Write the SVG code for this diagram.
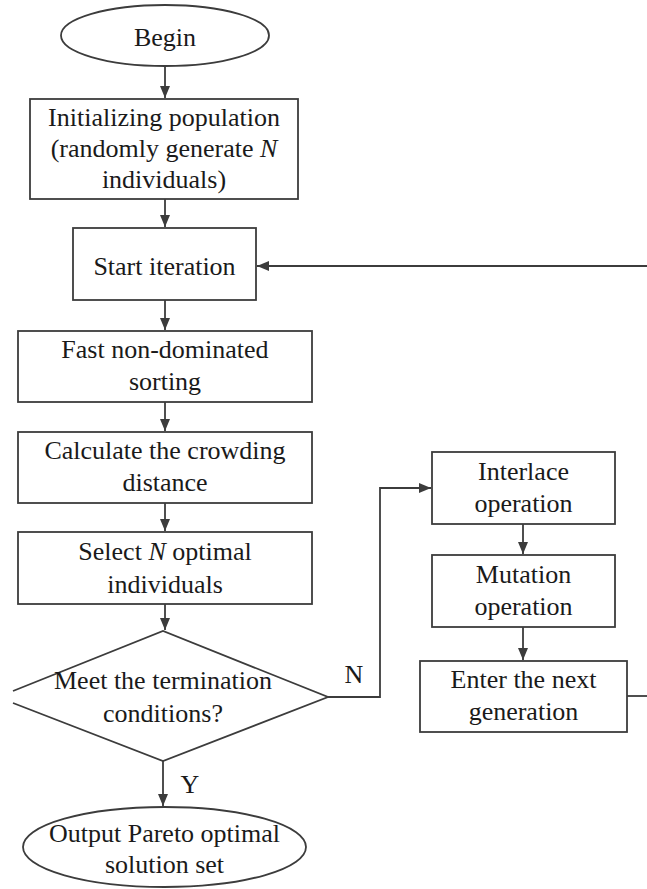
<svg xmlns="http://www.w3.org/2000/svg" width="647" height="889" viewBox="0 0 647 889">
<style>
.s{fill:#fff;stroke:#3c3c3c;stroke-width:1.8}
.t{font-family:'Liberation Serif','Times New Roman',Tinos,'DejaVu Serif',serif;font-size:26px;fill:#1a1a1a;text-anchor:middle}
.c{fill:none;stroke:#3c3c3c;stroke-width:1.8}
.i{font-style:italic}
</style>
<defs>
<marker id="a" viewBox="0 0 12 10" refX="12" refY="5" markerWidth="12" markerHeight="10" markerUnits="userSpaceOnUse" orient="auto">
<path d="M0,0 L12,5 L0,10 z" fill="#3c3c3c"/>
</marker>
</defs>
<rect width="647" height="889" fill="#fff"/>
<g id="connectors">
<path class="c" d="M165,66 V98" marker-end="url(#a)"/>
<path class="c" d="M165,199 V227" marker-end="url(#a)"/>
<path class="c" d="M165,300 V330" marker-end="url(#a)"/>
<path class="c" d="M165,402 V431" marker-end="url(#a)"/>
<path class="c" d="M165,503 V531" marker-end="url(#a)"/>
<path class="c" d="M165,604 V630" marker-end="url(#a)"/>
<path class="c" d="M163,761 V806" marker-end="url(#a)"/>
<path class="c" d="M328,697 H380 V488 H431" marker-end="url(#a)"/>
<path class="c" d="M523,524 V554" marker-end="url(#a)"/>
<path class="c" d="M523,627 V660" marker-end="url(#a)"/>
<path class="c" d="M627,696 H647"/>
<path class="c" d="M647,266 H257" marker-end="url(#a)"/>
<text class="t" x="190" y="793" font-family="Liberation Serif, serif">Y</text>
<text class="t" x="354" y="683" font-family="Liberation Serif, serif">N</text>
</g>
<g id="begin">
<ellipse class="s" cx="165" cy="35.5" rx="104" ry="30.5"/>
<text class="t" x="165" y="46" font-family="Liberation Serif, serif">Begin</text>
</g>
<g id="init">
<rect class="s" x="30" y="99" width="268" height="100"/>
<text class="t" x="164" y="126">Initializing population</text>
<text class="t" x="164" y="157">(randomly generate <tspan class="i">N</tspan></text>
<text class="t" x="164" y="188">individuals)</text>
</g>
<g id="start">
<rect class="s" x="73" y="228" width="183" height="72"/>
<text class="t" x="164.5" y="275">Start iteration</text>
</g>
<g id="fast">
<rect class="s" x="18" y="331" width="294" height="71"/>
<text class="t" x="165" y="358">Fast non-dominated</text>
<text class="t" x="165" y="390">sorting</text>
</g>
<g id="crowding">
<rect class="s" x="18" y="432" width="294" height="71"/>
<text class="t" x="165" y="459">Calculate the crowding</text>
<text class="t" x="165" y="491">distance</text>
</g>
<g id="select">
<rect class="s" x="18" y="532" width="294" height="72"/>
<text class="t" x="165" y="560">Select <tspan class="i">N</tspan> optimal</text>
<text class="t" x="165" y="593">individuals</text>
</g>
<g id="decision">
<polyline class="s" points="13,691 163,631 328,697 163,761 13,703"/>
<text class="t" x="163" y="689">Meet the termination</text>
<text class="t" x="163" y="722">conditions?</text>
</g>
<g id="output">
<ellipse class="s" cx="164.5" cy="847" rx="141.5" ry="40"/>
<text class="t" x="164.5" y="842">Output Pareto optimal</text>
<text class="t" x="164.5" y="873">solution set</text>
</g>
<g id="interlace">
<rect class="s" x="432" y="452" width="183" height="72"/>
<text class="t" x="523.5" y="480">Interlace</text>
<text class="t" x="523.5" y="512">operation</text>
</g>
<g id="mutation">
<rect class="s" x="432" y="555" width="183" height="72"/>
<text class="t" x="523.5" y="583">Mutation</text>
<text class="t" x="523.5" y="615">operation</text>
</g>
<g id="next">
<rect class="s" x="420" y="661" width="207" height="71"/>
<text class="t" x="523.5" y="688">Enter the next</text>
<text class="t" x="523.5" y="720">generation</text>
</g>
</svg>
